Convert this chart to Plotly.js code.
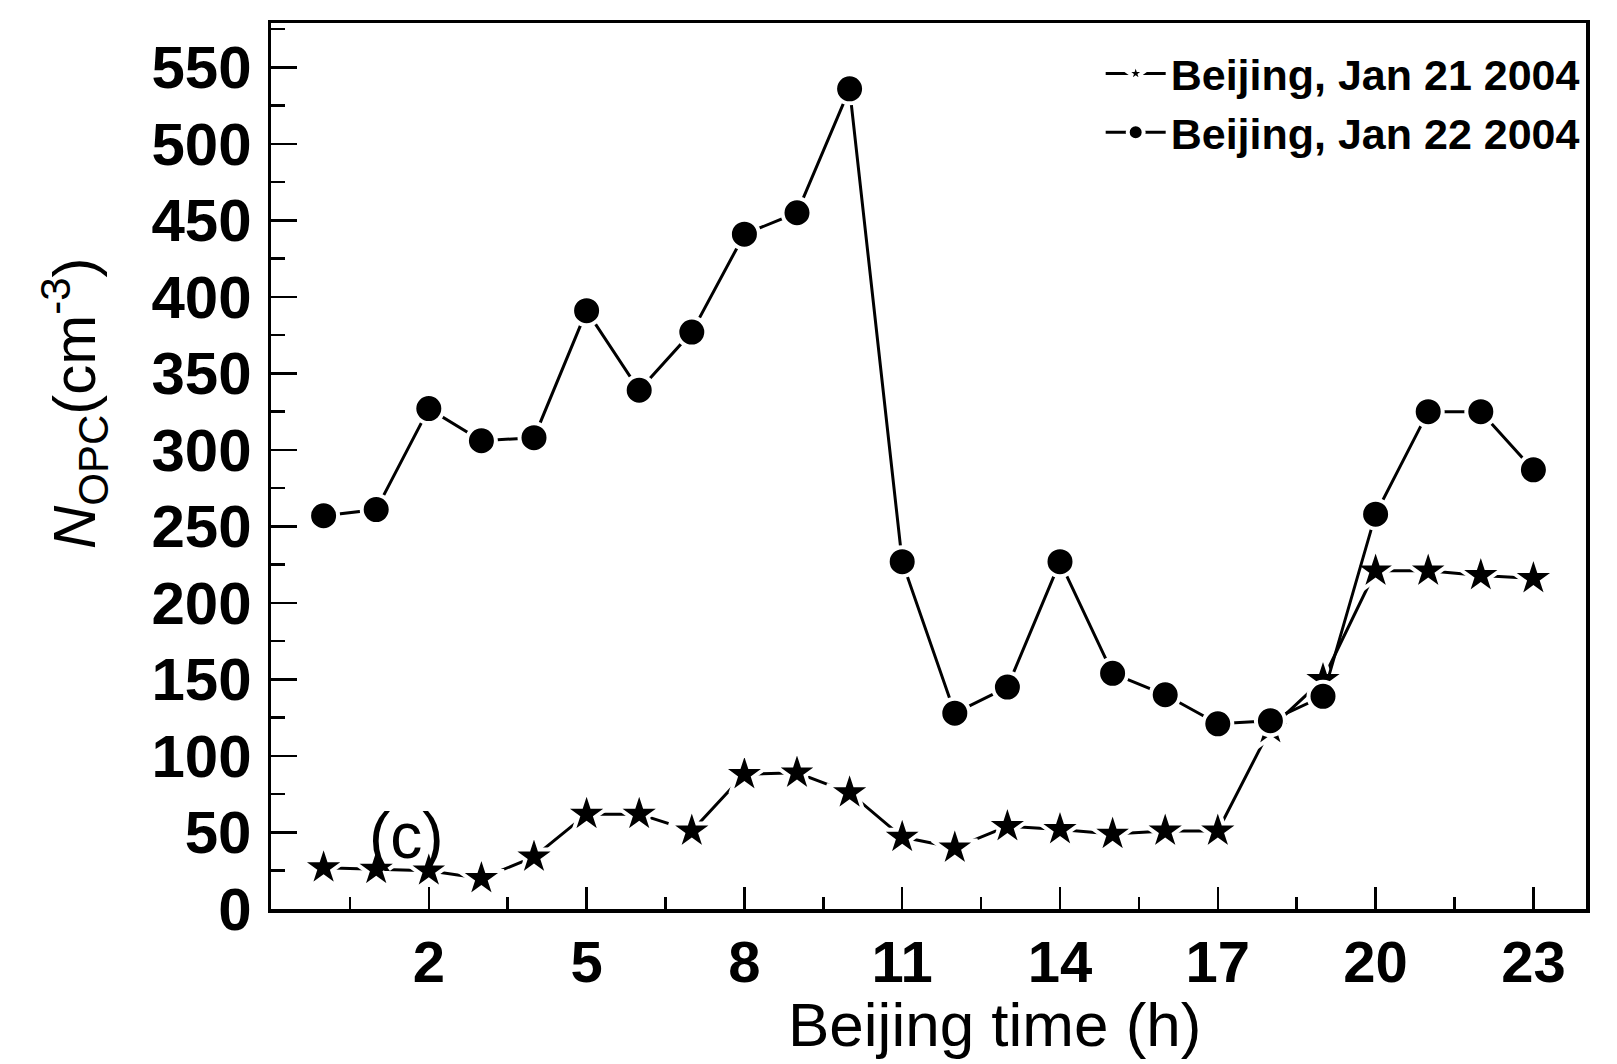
<!DOCTYPE html>
<html>
<head>
<meta charset="utf-8">
<script src="https://cdn.plot.ly/plotly-3.0.1.min.js"></script>
<style>html,body{margin:0;padding:0;background:#fff;}#chart{width:1617px;height:1064px;}</style>
</head>
<body>
<div id="chart"></div>
<script>
var hours = [0,1,2,3,4,5,6,7,8,9,10,11,12,13,14,15,16,17,18,19,20,21,22,23];
var jan21 = [27,26,25,20,34,62,62,51,88,89,76,47,40,54,52,49,51,51,118,150,221,221,218,216];
var jan22 = [257,261,327,306,308,391,339,377,441,455,536,227,128,145,227,154,140,121,123,139,258,325,325,287];
var seriesNames = ["Beijing, Jan 21 2004", "Beijing, Jan 22 2004"];
var xTickVals = [2,5,8,11,14,17,20,23];
var yTickVals = [0,50,100,150,200,250,300,350,400,450,500,550];

var FONT = "Liberation Sans, Arial, sans-serif";

var traces = [
  {x: hours, y: jan21, name: seriesNames[0], mode: "lines+markers", type: "scatter",
   line: {color: "#000", width: 3},
   marker: {symbol: "star", size: 34, color: "#000", line: {color: "#fff", width: 4}}},
  {x: hours, y: jan22, name: seriesNames[1], mode: "lines+markers", type: "scatter",
   line: {color: "#000", width: 3},
   marker: {symbol: "circle", size: 29, color: "#000", line: {color: "#fff", width: 4}}}
];

var layout = {
  width: 1617, height: 1064,
  margin: {l: 271, r: 31, t: 23, b: 155},
  paper_bgcolor: "#fff", plot_bgcolor: "#fff",
  showlegend: true,
  legend: {x: 0.999, y: 0.982, xanchor: "right", yanchor: "top",
    font: {family: FONT, size: 43, color: "#000", weight: "bold"},
    bgcolor: "rgba(0,0,0,0)", borderwidth: 0, itemwidth: 60, tracegroupgap: 0},
  xaxis: {range: [-1, 24], tickmode: "array", tickvals: xTickVals, ticktext: xTickVals.map(String),
    ticks: "inside", ticklen: 22, tickwidth: 2.5, tickcolor: "#000",
    minor: {dtick: 1.5, tick0: 0.5, ticks: "inside", ticklen: 12, tickwidth: 2.5, tickcolor: "#000", showgrid: false},
    showline: true, linewidth: 3.5, linecolor: "#000", mirror: true, showgrid: false, zeroline: false,
    tickfont: {family: FONT, size: 58, color: "#000", weight: "bold"}, ticklabelstandoff: 0},
  yaxis: {range: [0, 579], tickmode: "array", tickvals: yTickVals, ticktext: yTickVals.map(String),
    ticks: "inside", ticklen: 26, tickwidth: 2.5, tickcolor: "#000",
    minor: {dtick: 50, tick0: 25, ticks: "inside", ticklen: 14, tickwidth: 2.5, tickcolor: "#000", showgrid: false},
    showline: true, linewidth: 3.5, linecolor: "#000", mirror: true, showgrid: false, zeroline: false,
    tickfont: {family: FONT, size: 60, color: "#000", weight: "bold"}, ticklabelstandoff: 4},
  annotations: [
    {x: 1.58, y: 48, xref: "x", yref: "y", text: "(c)", showarrow: false,
     font: {family: FONT, size: 64, color: "#000"}},
    {x: 0.55, y: -0.13, xref: "paper", yref: "paper", xanchor: "center", yanchor: "middle",
     text: "Beijing time (h)", showarrow: false,
     font: {family: FONT, size: 62, color: "#000"}},
    {x: -0.1498, y: 0.571, xref: "paper", yref: "paper", xanchor: "center", yanchor: "middle",
     text: "<i>N</i><sub>OPC</sub>(cm<sup>-3</sup>)", textangle: -90, showarrow: false,
     font: {family: FONT, size: 60, color: "#000"}}
  ]
};

Plotly.newPlot("chart", traces, layout, {displayModeBar: false, staticPlot: true});
</script>
</body>
</html>
